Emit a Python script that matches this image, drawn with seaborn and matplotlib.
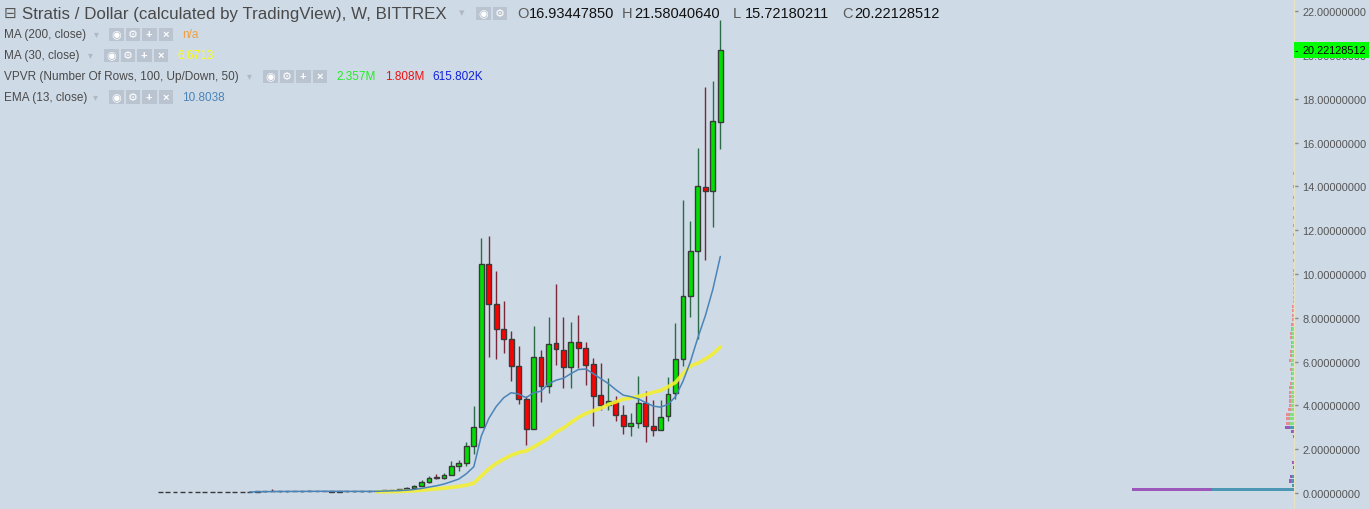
import numpy as np
import pandas as pd
import matplotlib.pyplot as plt
import seaborn as sns
from matplotlib.patches import Rectangle
from matplotlib.ticker import FormatStrFormatter
from matplotlib.transforms import blended_transform_factory

# weekly candles, oldest first (STRAT/USD, Bittrex)
opens = [0.04] * 13 + [
    0.05, 0.08, 0.10, 0.07, 0.08, 0.08, 0.07, 0.08, 0.09, 0.08, 0.07, 0.06, 0.07, 0.07, 0.07, 0.07, 0.07,
    0.12, 0.13, 0.15, 0.17, 0.21, 0.31, 0.49, 0.73, 0.67, 0.81, 1.22, 1.37, 2.13, 3.00, 10.44, 8.61,
    7.47, 7.02, 5.78, 4.28, 2.91, 6.20, 4.87, 6.84, 6.52, 5.74, 6.88, 6.61, 5.88, 4.46, 4.02, 4.19,
    3.55, 3.05, 3.18, 4.09, 3.05, 2.88, 3.53, 4.55, 6.12, 8.98, 11.04, 13.99, 13.80, 16.93]
highs = [0.04] * 13 + [
    0.09, 0.11, 0.18, 0.10, 0.10, 0.10, 0.10, 0.14, 0.10, 0.10, 0.09, 0.08, 0.09, 0.08, 0.09, 0.08, 0.09,
    0.14, 0.16, 0.20, 0.29, 0.36, 0.58, 0.79, 0.87, 0.90, 1.46, 1.51, 2.31, 3.97, 11.64, 11.74, 10.14,
    8.77, 7.40, 6.71, 4.44, 7.63, 6.53, 8.02, 9.54, 8.02, 7.79, 8.13, 6.88, 6.16, 5.92, 5.24, 4.43,
    4.02, 3.65, 5.34, 4.64, 4.25, 4.25, 5.28, 7.76, 13.38, 12.42, 15.75, 18.54, 18.81, 21.58]
lows = [0.04] * 13 + [
    0.04, 0.06, 0.07, 0.06, 0.06, 0.07, 0.06, 0.07, 0.07, 0.07, 0.06, 0.05, 0.06, 0.06, 0.06, 0.06, 0.06,
    0.11, 0.12, 0.14, 0.16, 0.20, 0.30, 0.46, 0.64, 0.64, 0.81, 0.99, 1.22, 1.78, 3.00, 6.22, 6.13,
    6.41, 5.13, 4.06, 2.21, 2.91, 4.14, 4.58, 5.86, 4.81, 4.78, 5.72, 4.95, 3.07, 3.79, 3.80, 3.29,
    2.68, 2.62, 2.95, 2.31, 2.62, 2.86, 3.30, 4.29, 5.81, 8.02, 7.03, 10.65, 12.16, 15.72]
closes = [0.04] * 13 + [
    0.08, 0.09, 0.07, 0.09, 0.09, 0.08, 0.09, 0.10, 0.08, 0.09, 0.06, 0.07, 0.07, 0.07, 0.07, 0.07, 0.08,
    0.13, 0.15, 0.20, 0.24, 0.31, 0.49, 0.70, 0.67, 0.81, 1.22, 1.36, 2.13, 3.00, 10.44, 8.61, 7.47,
    7.02, 5.78, 4.28, 2.91, 6.20, 4.87, 6.79, 6.56, 5.74, 6.88, 6.61, 5.83, 4.42, 4.00, 4.19, 3.55,
    3.05, 3.20, 4.09, 3.05, 2.88, 3.49, 4.53, 6.10, 8.98, 11.04, 14.00, 13.80, 16.97, 20.22]

# indicator lines
ema13 = [np.nan] * 12 + [
    0.05, 0.055, 0.06, 0.065, 0.068, 0.07, 0.072, 0.074, 0.076, 0.078, 0.078, 0.077, 0.076, 0.075,
    0.074, 0.074, 0.075, 0.077,
    0.09, 0.10, 0.11, 0.13, 0.16, 0.21, 0.27, 0.33, 0.41, 0.52, 0.64, 0.88, 1.2,
    2.6, 3.4, 3.95, 4.35, 4.58, 4.52, 4.35, 4.58, 4.65, 4.98, 5.15, 5.24, 5.45, 5.64, 5.66, 5.45,
    5.22, 5.0, 4.72, 4.47, 4.4, 4.3, 4.13, 3.97, 3.92, 4.05, 4.4, 5.1, 6.0, 7.1, 8.1, 9.3, 10.8]
ma30 = [np.nan] * 29 + [
    0.06, 0.06, 0.065, 0.07, 0.09, 0.10, 0.13, 0.16, 0.19, 0.22, 0.26, 0.30, 0.36, 0.45, 0.78, 1.10,
    1.35, 1.55, 1.72, 1.85, 1.92, 2.10, 2.30, 2.50, 2.78, 2.97, 3.22, 3.45, 3.63, 3.76, 3.87, 4.04,
    4.16, 4.28, 4.34, 4.41, 4.49, 4.60, 4.68, 4.85, 5.05, 5.45, 5.80, 5.93, 6.12, 6.35, 6.67]

# volume profile rows (price level, up / down volume in K)
vp_price = [0.14, 0.34, 0.55, 0.76, 1.17, 1.38, 2.59, 2.80, 2.98, 3.18, 3.39, 3.59, 3.80, 4.00,
            4.20, 4.41, 4.61, 4.82, 5.02, 5.24, 5.45, 5.65, 5.86, 6.07, 6.27, 6.47, 6.68, 6.88,
            7.09, 7.29, 7.49, 7.70, 7.91, 8.11, 8.32, 8.53, 8.73, 8.94, 9.15, 9.35, 9.56, 9.77,
            9.97, 10.18, 10.6, 11.0, 11.4, 11.8, 12.2, 12.6, 13.0, 13.5, 14.0, 14.6, 15.3, 15.9]
vp_up = [820, 20, 30, 20, 0, 10, 10, 13, 37, 40, 37, 37, 30, 30, 27, 27, 27, 23, 20, 17, 20, 20,
         23, 33, 20, 20, 17, 20, 20, 17, 17, 13, 13, 10, 10, 8, 8, 8, 7, 7, 6, 6, 6, 5, 4, 4, 3,
         3, 3, 3, 3, 3, 3, 2, 2, 2]
vp_down = [800, 0, 20, 20, 10, 10, 5, 13, 50, 40, 43, 47, 30, 23, 20, 23, 23, 23, 17, 17, 13, 23,
           10, 20, 17, 17, 17, 13, 17, 20, 17, 13, 10, 10, 8, 8, 7, 7, 7, 6, 6, 6, 6, 5, 5, 5, 4,
           4, 4, 4, 4, 4, 4, 4, 3, 3]

df = pd.DataFrame({"open": opens, "high": highs, "low": lows, "close": closes,
                   "ema": ema13, "ma": ma30})
df["bar"] = np.arange(len(df))
up = df["close"] >= df["open"]

BG = "#cedae6"
sns.set_theme(style="white", rc={"axes.facecolor": BG, "figure.facecolor": BG})
plt.rcParams["font.family"] = ["Liberation Sans", "DejaVu Sans"]

W, H = 1369, 510
fig = plt.figure(figsize=(W / 100, H / 100), dpi=100)
ax = fig.add_axes([0, 0, 1294 / W, 1])

# candles
wick_cols = np.where(up, "#2b6b48", "#7a2838")
ax.vlines(df["bar"], df["low"], df["high"], colors=wick_cols, lw=1, zorder=2)
body_cols = np.where(up, "#00e000", "#ff0000")
ax.bar(df["bar"], (df["close"] - df["open"]).abs(), bottom=df[["open", "close"]].min(axis=1),
       width=0.65, color=body_cols, edgecolor="#3a3a3a", linewidth=1, zorder=3)

sns.lineplot(data=df, x="bar", y="ma", ax=ax, color="#f3f032", lw=2.6, alpha=0.9,
             estimator=None, zorder=4)
sns.lineplot(data=df, x="bar", y="ema", ax=ax, color="#4a84b8", lw=1.1, estimator=None, zorder=5)

ax.set_xlim(-21.43, 151.8)
ax.set_ylim(-0.73, 22.557)
ax.set_xlabel("")
ax.set_ylabel("")
ax.set_xticks([])
ax.set_yticks(range(0, 23, 2))
ax.yaxis.set_major_formatter(FormatStrFormatter("%.8f"))
ax.yaxis.tick_right()
ax.tick_params(axis="y", right=True, left=False, length=3, width=1, color="#8a8a8a",
               labelcolor="#555555", labelsize=7.9, pad=3)
for s in ["top", "left", "bottom"]:
    ax.spines[s].set_visible(False)
ax.spines["right"].set_color("#e8e1c2")
ax.spines["right"].set_linewidth(1)

# volume profile, anchored at the price scale
ax2 = ax.twiny()
ax2.set_xlim(12940, 0)
va = np.array(vp_price) < 3.05
ax2.barh(vp_price, vp_up, height=0.14, color=np.where(va, "#4b97b4", "#7fe27f"), lw=0)
ax2.barh(vp_price, vp_down, left=vp_up, height=0.14, color=np.where(va, "#9b57b9", "#e88b95"), lw=0)
ax2.set_xticks([])
for s in ax2.spines.values():
    s.set_visible(False)

# last price tag on the scale
tr = blended_transform_factory(ax.transAxes, ax.transData)
ax.add_patch(Rectangle((1.0, closes[-1] - 0.36), 75 / 1294, 0.72, transform=tr,
                       color="#00ff00", lw=0, clip_on=False, zorder=10))
ax.text(1.0 + 8 / 1294, closes[-1], "20.22128512", transform=tr, ha="left", va="center",
        fontsize=7.9, color="black", zorder=11)
ax.text(1.0 + 1 / 1294, closes[-1], "-", transform=tr, ha="left", va="center",
        fontsize=7, color="black", zorder=11)


# header / legend
def ftxt(x, y, s, **kw):
    fig.text(x / W, 1 - y / H, s, va="center", ha="left", **kw)


def icons(x0, y, n, glyphs):
    for k in range(n):
        x = x0 + k * 16.5
        fig.add_artist(Rectangle((x / W, 1 - (y + 6.5) / H), 14.5 / W, 13 / H,
                                 transform=fig.transFigure, color="#b9c4d0", lw=0))
        fig.text((x + 7.25) / W, 1 - y / H, glyphs[k], ha="center", va="center",
                 fontsize=8, color="white", fontweight="bold")


HEAD = "#4a4a4a"
ftxt(4, 14, "⊟", fontsize=11, color="#555555")
ftxt(22, 14, "Stratis / Dollar (calculated by TradingView), W, BITTREX", fontsize=12.2,
     color=HEAD)
ftxt(459, 13, "▾", fontsize=8, color="#b0b8c2")
icons(476, 14, 2, ["◉", "⚙"])
for x, letter, val in [(517, "O", "16.93447850"), (622, "H", "21.58040640"),
                       (733, "L", "15.72180211"), (842, "C", "20.22128512")]:
    ftxt(x, 14, letter, fontsize=10.5, color="#5a5a5a")
    ftxt(x + 12, 14, val, fontsize=10.5, color="#111111")

ftxt(4, 35, "MA (200, close)", fontsize=8.5, color=HEAD)
ftxt(94, 34, "▾", fontsize=7, color="#b0b8c2")
icons(109, 35, 4, ["◉", "⚙", "+", "×"])
ftxt(182, 35, "n/a", fontsize=8.5, color="#f0a040")

ftxt(4, 56, "MA (30, close)", fontsize=8.5, color=HEAD)
ftxt(88, 55, "▾", fontsize=7, color="#b0b8c2")
icons(104, 56, 4, ["◉", "⚙", "+", "×"])
ftxt(177, 56, "6.6713", fontsize=8.5, color="#ffff00")

ftxt(4, 77, "VPVR (Number Of Rows, 100, Up/Down, 50)", fontsize=8.5, color=HEAD)
ftxt(247, 76, "▾", fontsize=7, color="#b0b8c2")
icons(263, 77, 4, ["◉", "⚙", "+", "×"])
ftxt(336, 77, "2.357M", fontsize=8.5, color="#22ee22")
ftxt(385, 77, "1.808M", fontsize=8.5, color="#ee1111")
ftxt(432, 77, "615.802K", fontsize=8.5, color="#1122dd")

ftxt(4, 98, "EMA (13, close)", fontsize=8.5, color=HEAD)
ftxt(93, 97, "▾", fontsize=7, color="#b0b8c2")
icons(109, 98, 4, ["◉", "⚙", "+", "×"])
ftxt(182, 98, "10.8038", fontsize=8.5, color="#4a84b8")

fig.savefig("out.png", dpi=100, facecolor=BG)
